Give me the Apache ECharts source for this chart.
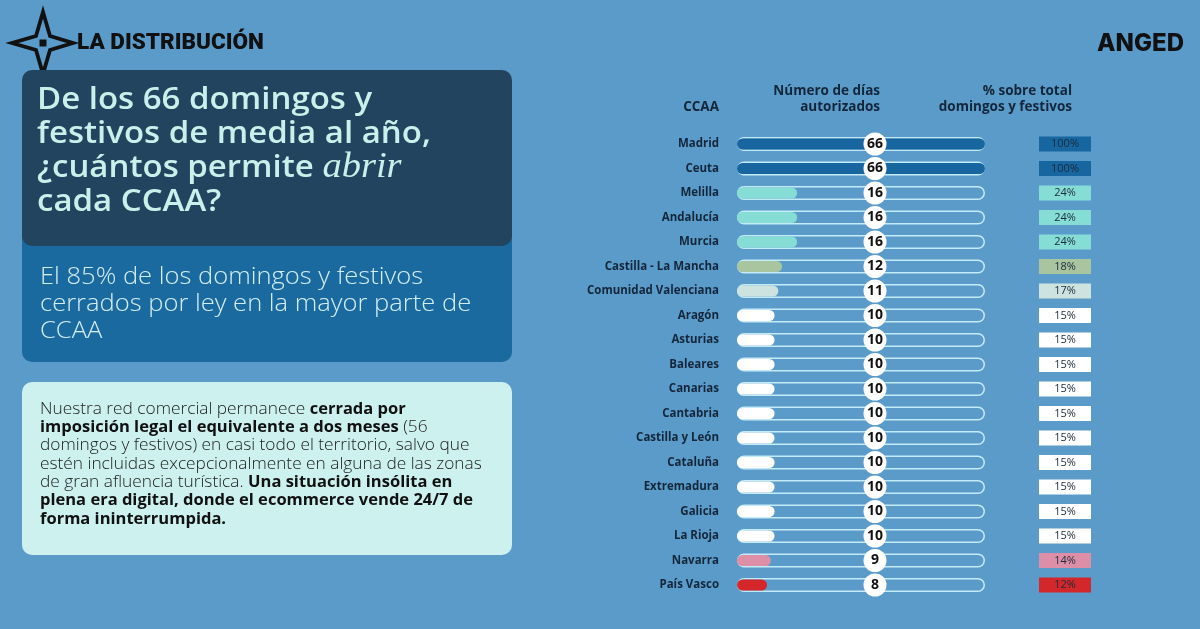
<!DOCTYPE html>
<html><head><meta charset="utf-8">
<script src="https://cdn.jsdelivr.net/npm/echarts@6.0.0/dist/echarts.min.js"></script>
<style>html,body{margin:0;padding:0;background:#5b9bca;}#c{width:1200px;height:629px;}</style>
</head><body><div id="c"></div>
<script>
// ---- data ----
const regions = ['Madrid','Ceuta','Melilla','Andalucía','Murcia','Castilla - La Mancha','Comunidad Valenciana','Aragón','Asturias','Baleares','Canarias','Cantabria','Castilla y León','Cataluña','Extremadura','Galicia','La Rioja','Navarra','País Vasco'];
const days = [66,66,16,16,16,12,11,10,10,10,10,10,10,10,10,10,10,9,8];
const pctLabels = ['100%','100%','24%','24%','24%','18%','17%','15%','15%','15%','15%','15%','15%','15%','15%','15%','15%','14%','12%'];
const totalDays = 66;
const rowColors = ['#1766a0','#1766a0','#86ddd6','#86ddd6','#86ddd6','#a8c59f','#cde3e0','#ffffff','#ffffff','#ffffff','#ffffff','#ffffff','#ffffff','#ffffff','#ffffff','#ffffff','#ffffff','#dd8fa7','#d4272c'];

const SANS = '"Open Sans", "Noto Sans", sans-serif';
const rowTop = 131.75, rowH = 465.5;
const dark = '#14263a';

const chart = echarts.init(document.getElementById('c'), null, {renderer:'canvas'});
const gridBase = {top:rowTop, height:rowH, containLabel:false, outerBoundsMode:'none'};
chart.setOption({
  backgroundColor:'#5b9bca',
  animation:false,
  grid:[
    Object.assign({left:737, width:248}, gridBase),
    Object.assign({left:864, width:22}, gridBase),
    Object.assign({left:1039, width:52}, gridBase)
  ],
  xAxis:[
    {gridIndex:0, type:'value', min:0, max:totalDays, show:false},
    {gridIndex:1, type:'category', data:['c'], show:false},
    {gridIndex:2, type:'value', min:0, max:1, show:false}
  ],
  yAxis:[
    {gridIndex:0, type:'category', data:regions, inverse:true,
     axisLine:{show:false}, axisTick:{show:false}, splitLine:{show:false},
     axisLabel:{margin:18, fontWeight:'bold', fontSize:11.5, color:dark, fontFamily:SANS}},
    {gridIndex:1, type:'category', data:regions, inverse:true, show:false},
    {gridIndex:2, type:'category', data:regions, inverse:true, show:false},
    {gridIndex:0, type:'category', data:regions, inverse:true, show:false}
  ],
  series:[
    {type:'bar', name:'track', xAxisIndex:0, yAxisIndex:0, silent:true,
     data:regions.map(()=>totalDays), barWidth:14, z:2,
     itemStyle:{color:'rgba(0,0,0,0)', borderColor:'#c4ecf7', borderWidth:1.5, borderRadius:7}},
    {type:'bar', name:'days', xAxisIndex:0, yAxisIndex:3, silent:true,
     data:days.map((v,i)=>({value:v, itemStyle:{color:rowColors[i]}})),
     barWidth:11, z:3, itemStyle:{borderRadius:6}},
    {type:'scatter', xAxisIndex:1, yAxisIndex:1, silent:true, z:5,
     data:days.map((v,i)=>['c', regions[i], v]),
     symbol:'circle', symbolSize:23,
     itemStyle:{color:'#ffffff', opacity:1},
     label:{show:true, position:'inside', formatter:p=>p.value[2],
            fontWeight:'bold', fontSize:14, color:'#111111', fontFamily:SANS}},
    {type:'bar', xAxisIndex:2, yAxisIndex:2, silent:true, z:3,
     data:pctLabels.map((p,i)=>({value:1, itemStyle:{color:rowColors[i]}})),
     barWidth:15,
     label:{show:true, position:'inside', formatter:p=>pctLabels[p.dataIndex],
            fontSize:11, color:'#1c2b3a', fontFamily:SANS}}
  ],
  graphic:[
    // logo
    {type:'polygon', shape:{points:[[43,12],[50,36],[73,43],[50,50],[43,74],[36,50],[12,43],[36,36]]},
     style:{fill:'none', stroke:'#111111', lineWidth:3.8, lineJoin:'miter'}},
    {type:'rect', shape:{x:39.5, y:39.5, width:7, height:7}, style:{fill:'#111111'}},
    {type:'text', x:77, y:43, scaleX:1.0,
     style:{x:0, y:0, text:'LA DISTRIBUCIÓN', fill:'#111111', fontFamily:'Roboto, sans-serif', fontWeight:900, fontSize:22.5, verticalAlign:'middle'}},
    {type:'text', style:{x:1184, y:44, text:'ANGED', fill:'#111111', fontFamily:'Inter, sans-serif', fontWeight:800, fontSize:24, align:'right', verticalAlign:'middle'}},
    // panels
    {type:'rect', shape:{x:22, y:226, width:490, height:136, r:10}, style:{fill:'#1a6aa0'}},
    {type:'rect', shape:{x:22, y:70, width:490, height:176, r:10}, style:{fill:'#22445f'}},
    {type:'rect', shape:{x:22, y:382, width:490, height:173, r:10}, style:{fill:'#cdf1ee'}},
    {type:'text', x:37, y:83, scaleX:1.1,
     style:{x:0, y:0, verticalAlign:'top', lineHeight:34,
      text:'De los 66 domingos y\nfestivos de media al año,\n¿cuántos permite {i|abrir}\ncada CCAA?',
      fill:'#c9f1ec', fontFamily:SANS, fontWeight:600, fontSize:30,
      rich:{i:{fontFamily:'"Liberation Serif", serif', fontStyle:'italic', fontSize:35, fill:'#c9f1ec', lineHeight:34}}}},
    {type:'text', x:40, y:263.5, scaleX:1.11,
     style:{x:0, y:0, verticalAlign:'top', lineHeight:27,
      text:'El 85% de los domingos y festivos\ncerrados por ley en la mayor parte de\nCCAA',
      fill:'#d3eef1', fontFamily:SANS, fontWeight:300, fontSize:23}},
    {type:'text', x:40, y:400, scaleX:1.08,
     style:{x:0, y:0, verticalAlign:'top', lineHeight:18.33,
      text:'Nuestra red comercial permanece {b|cerrada por}\n{b|imposición legal el equivalente a dos meses} (56\ndomingos y festivos) en casi todo el territorio, salvo que\nestén incluidas excepcionalmente en alguna de las zonas\nde gran afluencia turística. {b|Una situación insólita en}\n{b|plena era digital, donde el ecommerce vende 24/7 de}\n{b|forma ininterrumpida.}',
      fill:'#1b1b1b', fontFamily:SANS, fontWeight:300, fontSize:16,
      rich:{b:{fontFamily:SANS, fontWeight:'bold', fontSize:15.3, fill:'#111111', lineHeight:18.33}}}},
    // table headers
    {type:'text', style:{x:719, y:107, text:'CCAA', align:'right', verticalAlign:'middle', fill:dark, fontFamily:SANS, fontWeight:'bold', fontSize:13.5}},
    {type:'text', style:{x:880, y:99.5, text:'Número de días\nautorizados', align:'right', verticalAlign:'middle', lineHeight:16, fill:dark, fontFamily:SANS, fontWeight:'bold', fontSize:13.5}},
    {type:'text', style:{x:1072, y:99.5, text:'% sobre total\ndomingos y festivos', align:'right', verticalAlign:'middle', lineHeight:16, fill:dark, fontFamily:SANS, fontWeight:'bold', fontSize:13.5}}
  ]
});
</script></body></html>
